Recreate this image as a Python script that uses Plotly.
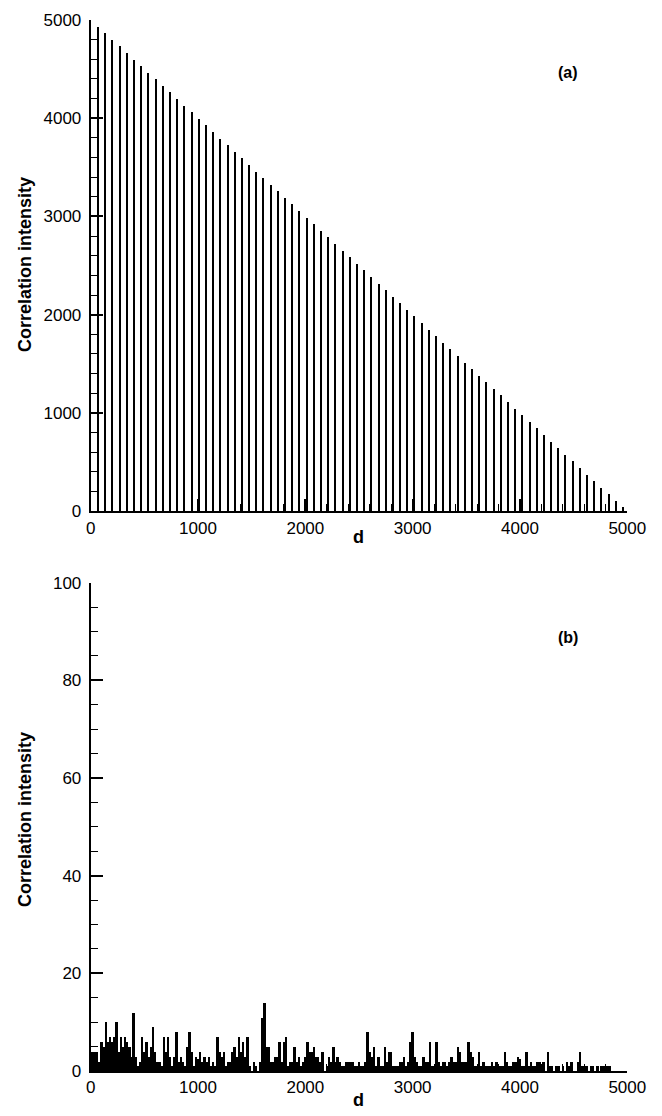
import plotly.graph_objects as go

# ---- panel (a): periodic correlation spikes ----
lag_a = [67, 134, 201, 268, 335, 402, 469, 536, 603, 670, 737, 804, 871, 938, 1005,
         1072, 1139, 1206, 1273, 1340, 1407, 1474, 1541, 1608, 1675, 1742, 1809, 1876,
         1943, 2010, 2077, 2144, 2211, 2278, 2345, 2412, 2479, 2546, 2613, 2680, 2747,
         2814, 2881, 2948, 3015, 3082, 3149, 3216, 3283, 3350, 3417, 3484, 3551, 3618,
         3685, 3752, 3819, 3886, 3953, 4020, 4087, 4154, 4221, 4288, 4355, 4422, 4489,
         4556, 4623, 4690, 4757, 4824, 4891, 4958]
intensity_a = [4933, 4866, 4799, 4732, 4665, 4598, 4531, 4464, 4397, 4330, 4263, 4196,
               4129, 4062, 3995, 3928, 3861, 3794, 3727, 3660, 3593, 3526, 3459, 3392,
               3325, 3258, 3191, 3124, 3057, 2990, 2923, 2856, 2789, 2722, 2655, 2588,
               2521, 2454, 2387, 2320, 2253, 2186, 2119, 2052, 1985, 1918, 1851, 1784,
               1717, 1650, 1583, 1516, 1449, 1382, 1315, 1248, 1181, 1114, 1047, 980,
               913, 846, 779, 712, 645, 578, 511, 444, 377, 310, 243, 176, 109, 42]

# ---- panel (b): noise-like correlation (sampled every 20 in d) ----
lag_b = list(range(0, 5000, 20))
intensity_b = [
    4, 4, 4, 4, 2, 6, 5, 10, 6, 7,
    6, 7, 10, 4, 7, 5, 7, 6, 5, 3,
    12, 3, 1, 2, 7, 4, 6, 3, 5, 9,
    4, 2, 2, 1, 7, 4, 7, 3, 1, 3,
    8, 2, 3, 2, 1, 5, 8, 4, 1, 3,
    2, 4, 2, 3, 2, 3, 1, 2, 1, 7,
    4, 3, 4, 1, 2, 2, 4, 5, 3, 7,
    4, 6, 3, 7, 1, 0, 2, 1, 0, 2,
    11, 14, 5, 5, 2, 2, 3, 3, 6, 2,
    6, 7, 1, 2, 2, 5, 2, 3, 1, 2,
    3, 6, 4, 4, 5, 3, 3, 2, 4, 0,
    1, 3, 2, 5, 2, 3, 2, 1, 1, 2,
    2, 2, 2, 1, 1, 2, 1, 1, 2, 8,
    4, 3, 5, 1, 3, 1, 1, 5, 2, 4,
    4, 1, 1, 1, 2, 2, 3, 1, 2, 6,
    8, 3, 2, 1, 1, 3, 2, 2, 6, 1,
    1, 6, 2, 1, 2, 2, 1, 2, 3, 2,
    2, 5, 4, 2, 2, 2, 6, 4, 3, 1,
    1, 4, 1, 2, 1, 1, 1, 2, 1, 2,
    1, 1, 1, 4, 2, 1, 1, 2, 2, 3,
    2, 1, 1, 4, 1, 2, 1, 1, 2, 2,
    1, 2, 0, 4, 1, 1, 0, 1, 1, 0,
    1, 0, 2, 1, 2, 0, 0, 2, 4, 1,
    1, 1, 0, 1, 1, 0, 1, 0, 1, 1,
    1, 1, 1, 0, 0, 0, 0, 0, 0, 0,
]

x_ticks = [0, 1000, 2000, 3000, 4000, 5000]
ya_ticks = [0, 1000, 2000, 3000, 4000, 5000]
yb_ticks = [0, 20, 40, 60, 80, 100]

W, H = 662, 1116
FONT = "Liberation Sans, Arial, sans-serif"

def px_x(p):
    return p / W

def px_y(p):
    return 1 - p / H

fig = go.Figure()
fig.add_trace(go.Bar(x=lag_a, y=intensity_a, width=11, marker=dict(color="black", line=dict(width=0)),
                     xaxis="x", yaxis="y", showlegend=False))
fig.add_trace(go.Bar(x=lag_b, y=intensity_b, width=18, marker=dict(color="black", line=dict(width=0)),
                     xaxis="x2", yaxis="y2", showlegend=False))

def xaxis_style(anchor):
    return dict(
        domain=[px_x(90.7), px_x(627.3)], anchor=anchor, range=[0, 5000],
        tickvals=x_ticks, ticktext=[str(v) for v in x_ticks],
        ticks="inside", ticklen=12, tickwidth=2, tickcolor="black",
        showline=True, linecolor="black", linewidth=2, showgrid=False, zeroline=False,
        tickfont=dict(family=FONT, size=17, color="black"),
        minor=dict(dtick=200, tick0=0, ticks="inside", ticklen=7, tickwidth=1, tickcolor="black", showgrid=False),
        fixedrange=True, automargin=False,
    )

def yaxis_style(anchor, dom, rng, ticks, mdt):
    return dict(
        domain=dom, anchor=anchor, range=rng,
        tickvals=ticks, ticktext=[str(v) for v in ticks],
        ticks="inside", ticklen=12, tickwidth=2, tickcolor="black",
        showline=True, linecolor="black", linewidth=2, showgrid=False, zeroline=False,
        tickfont=dict(family=FONT, size=17, color="black"),
        minor=dict(dtick=mdt, tick0=0, ticks="inside", ticklen=7, tickwidth=1, tickcolor="black", showgrid=False),
        ticklabelstandoff=4,
        fixedrange=True, automargin=False,
    )

fig.update_layout(
    autosize=True,
    margin=dict(l=0, r=0, t=0, b=0, pad=0),
    paper_bgcolor="white", plot_bgcolor="white",
    bargap=0,
    xaxis=xaxis_style("y"),
    yaxis=yaxis_style("x", [px_y(511.3), px_y(19.7)], [0, 5000], ya_ticks, 200),
    xaxis2=xaxis_style("y2"),
    yaxis2=yaxis_style("x2", [px_y(1071), px_y(582.7)], [0, 100], yb_ticks, 5),
    font=dict(family=FONT, color="black"),
)

ann_font = dict(family=FONT, size=18, color="black", weight="bold")
annotations = [
    dict(text="Correlation intensity", x=px_x(25), y=px_y(265), textangle=-90),
    dict(text="Correlation intensity", x=px_x(25), y=px_y(820), textangle=-90),
    dict(text="d", x=px_x(358), y=px_y(537)),
    dict(text="d", x=px_x(358), y=px_y(1100)),
    dict(text="(a)", x=px_x(568), y=px_y(73), font=dict(family=FONT, size=16, color="black", weight="bold")),
    dict(text="(b)", x=px_x(568), y=px_y(637), font=dict(family=FONT, size=16, color="black", weight="bold")),
]
for a in annotations:
    a.setdefault("font", ann_font)
    fig.add_annotation(xref="paper", yref="paper", xanchor="center", yanchor="middle",
                       showarrow=False, **a)

fig.write_html("out.html", config={"displayModeBar": False, "responsive": True},
               default_width="100vw", default_height="100vh")

# remove default page margins so the figure fills the window exactly
with open("out.html", "r", encoding="utf-8") as f:
    html = f.read()
html = html.replace("<head>", "<head><style>html,body{margin:0;padding:0;overflow:hidden;width:100%;height:100%;}</style>", 1)
with open("out.html", "w", encoding="utf-8") as f:
    f.write(html)
